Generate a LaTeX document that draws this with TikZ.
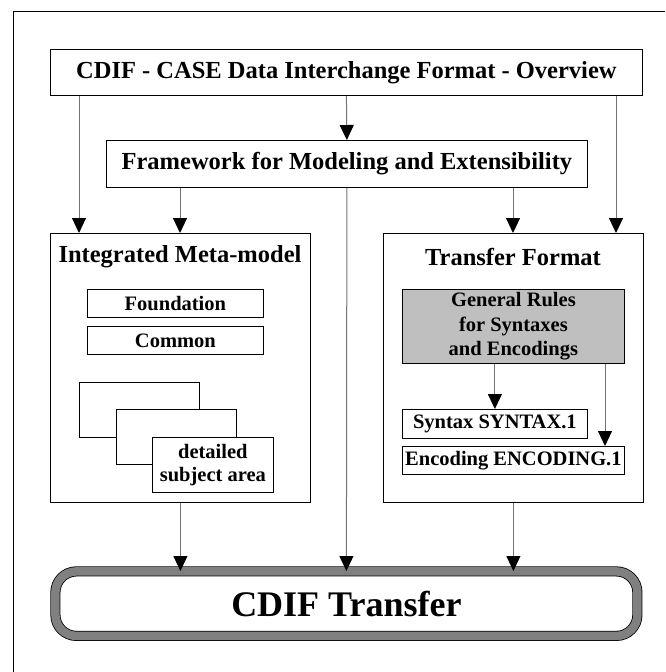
\documentclass[tikz,border=0pt]{standalone}
\usepackage{fontspec}
\setmainfont{Liberation Serif}
\usetikzlibrary{arrows.meta,positioning}

\begin{document}
\begin{tikzpicture}[x=1pt,y=-1pt,
    box/.style={draw,line width=0.8pt,fill=white,inner sep=2pt,anchor=north west,
        font=\fontsize{24.5}{28}\selectfont\bfseries},
    subbox/.style={draw,line width=0.8pt,fill=white,inner sep=1pt,anchor=north west,
        align=center,font=\fontsize{20.5}{23.5}\selectfont\bfseries},
    heading/.style={font=\fontsize{24.5}{28}\selectfont\bfseries},
    arr/.style={black!55,line width=1pt,-{Triangle[length=15pt,width=14pt,color=black]}}]

    \useasboundingbox (0,0) rectangle (665,672);

    % Frame (cut at the right and bottom)
    \draw[line width=0.8pt] (13,672) -- (13,11) -- (665,11);

    % Top row
    \node[box,minimum width=592pt,minimum height=46pt] (overview) at (50,49)
        {CDIF - CASE Data Interchange Format - Overview};
    \node[box,minimum width=481pt,minimum height=47pt] (framework) at (106,140)
        {Framework for Modeling and Extensibility};

    % LEFT: Integrated Meta-model
    \node[box,minimum width=260pt,minimum height=269pt] (meta) at (50,233) {};
    \node[heading] (metatitle) at (180,257) {Integrated Meta-model};
    \node[subbox,minimum width=176pt,minimum height=28pt] (found) at (87,289) {Foundation};
    \node[subbox,minimum width=176pt,minimum height=28pt] (common) at (87,326) {Common};
    \node[subbox,minimum width=120pt,minimum height=55pt] (area1) at (79,382) {};
    \node[subbox,minimum width=120pt,minimum height=55pt] (area2) at (116,409) {};
    \node[subbox,minimum width=121pt,minimum height=55pt] (area3) at (152,437)
        {detailed\\subject area};

    % RIGHT: Transfer Format
    \node[box,minimum width=260pt,minimum height=269pt] (format) at (383,233) {};
    \node[heading] (formattitle) at (513,257) {Transfer Format};
    \node[subbox,fill=black!25,minimum width=222pt,minimum height=74pt,
        font=\fontsize{20.5}{24.5}\selectfont\bfseries] (rules) at (402,289)
        {General Rules\\for Syntaxes\\and Encodings};
    \node[subbox,minimum width=185pt,minimum height=29pt] (syntax) at (402,409) {Syntax SYNTAX.1};
    \node[subbox,minimum width=222pt,minimum height=28pt] (encoding) at (402,446) {Encoding ENCODING.1};

    % Bottom: CDIF Transfer
    \node[draw,line width=0.8pt,double=black!50,double distance=8.5pt,rounded corners=21pt,
        fill=white,anchor=north west,minimum width=582pt,minimum height=64.5pt,
        font=\fontsize{36}{40}\selectfont\bfseries] (transfer) at (55,571) {CDIF Transfer};

    % Arrows
    \draw[arr] (overview.south -| 79,0) -- (meta.north -| 79,0);
    \draw[arr] (overview.south) -- (framework.north);
    \draw[arr] (overview.south -| 616,0) -- (format.north -| 616,0);
    \draw[arr] (framework.south -| 180,0) -- (meta.north -| 180,0);
    \draw[arr] (framework.south -| 513,0) -- (format.north -| 513,0);
    \draw[arr] (framework.south) -- (transfer.north);
    \draw[arr] (meta.south) -- (transfer.north -| meta.south);
    \draw[arr] (format.south) -- (transfer.north -| format.south);
    \draw[arr] (rules.south -| syntax.north) -- (syntax.north);
    \draw[arr] (rules.south -| 605,0) -- (encoding.north -| 605,0);

\end{tikzpicture}
\end{document}
